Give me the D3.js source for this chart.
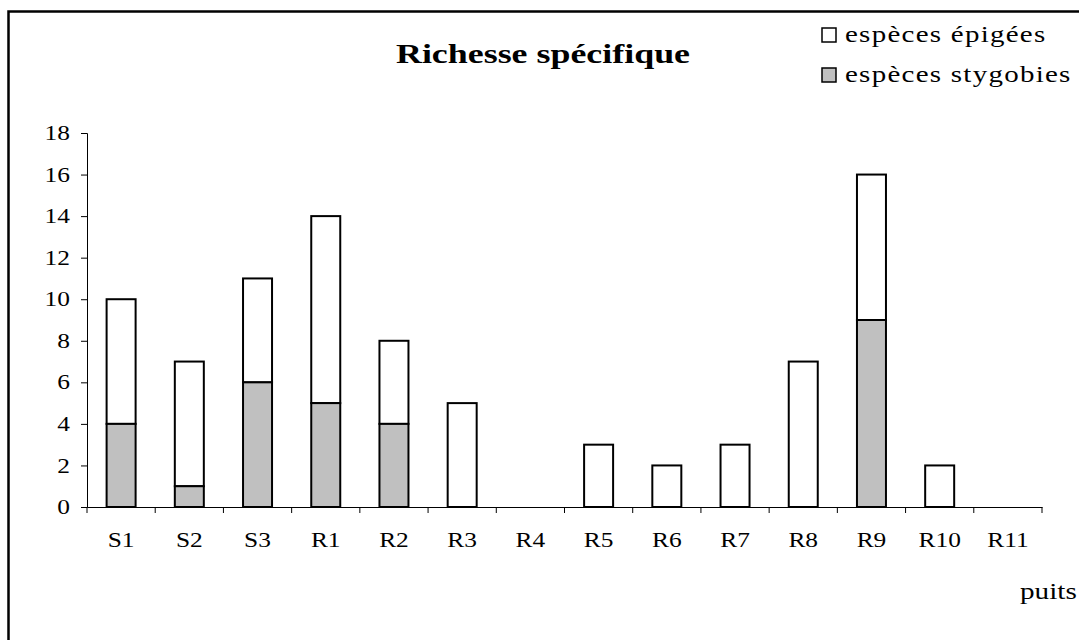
<!DOCTYPE html>
<html>
<head>
<meta charset="utf-8">
<script src="https://cdn.jsdelivr.net/npm/d3@7"></script>
<style>
  body { margin: 0; background: #fff; }
  svg text { font-family: "Liberation Serif", "Times New Roman", serif; fill: #000; }
</style>
</head>
<body>
<div id="chart"></div>
<script>
// puits (wells) and species counts
const puits = ['S1', 'S2', 'S3', 'R1', 'R2', 'R3', 'R4', 'R5', 'R6', 'R7', 'R8', 'R9', 'R10', 'R11'];
const stygobies = [4, 1, 6, 5, 4, 0, 0, 0, 0, 0, 0, 9, 0, 0];
const epigees = [6, 6, 5, 9, 4, 5, 0, 3, 2, 3, 7, 7, 2, 0];
const yTicks = [0, 2, 4, 6, 8, 10, 12, 14, 16, 18];
const seriesNames = ['espèces épigées', 'espèces stygobies'];
const seriesColors = ['#ffffff', '#c0c0c0'];

let width = 1079;
let height = 640;

let svg = d3.select('#chart')
  .append('svg')
  .attr('width', width)
  .attr('height', height);

// the original text is wider than it is tall:
// put the text at its anchor, then widen it
function widen(sel, k) {
  sel.each(function () {
    let t = d3.select(this);
    let tx = +t.attr('x') || 0;
    let ty = +t.attr('y') || 0;
    t.attr('x', 0).attr('y', 0)
      .attr('transform', `translate(${tx},${ty}) scale(${k},1)`);
  });
}

// outer frame (runs off the right and bottom edge in the original)
svg.append('rect')
  .attr('x', 8.5).attr('y', 11.5)
  .attr('width', 1200).attr('height', 800)
  .attr('fill', 'none').attr('stroke', '#000').attr('stroke-width', 2.5);

let x = d3.scaleBand().domain(puits).range([87, 1042]).padding(0);
let y = d3.scaleLinear().domain([0, 18]).range([507, 133]);

let barW = 29;

// stack stygobies at the bottom, épigées on top
let rows = puits.map((p, i) => ({puits: p, stygobies: stygobies[i], epigees: epigees[i]}));
let stack = d3.stack().keys(['epigees', 'stygobies']).order(d3.stackOrderReverse)(rows);

let groups = svg.selectAll('g.serie')
  .data(stack)
  .enter()
  .append('g')
  .attr('class', 'serie')
  .attr('fill', (d, i) => seriesColors[i]);

groups.selectAll('rect')
  .data(d => d.filter(s => s[1] - s[0] > 0))
  .enter()
  .append('rect')
  .attr('x', d => x(d.data.puits) + x.bandwidth() / 2 - barW / 2)
  .attr('y', d => y(d[1]))
  .attr('width', barW)
  .attr('height', d => y(d[0]) - y(d[1]))
  .attr('stroke', '#000')
  .attr('stroke-width', 2);

// y axis
let yAxis = svg.append('g')
  .attr('transform', 'translate(87,0)')
  .call(d3.axisLeft(y).tickValues(yTicks).tickSize(6).tickPadding(11));
yAxis.selectAll('text').style('font-size', '20.5px').call(widen, 1.24);

// x axis, ticks between categories
let xAxis = svg.append('g')
  .attr('transform', 'translate(0,507)')
  .call(d3.axisBottom(x).tickSize(0).tickPadding(25));
xAxis.selectAll('text').style('font-size', '20.5px').call(widen, 1.24);
xAxis.selectAll('.sep')
  .data(puits.concat(['end']))
  .enter()
  .append('line')
  .attr('class', 'sep')
  .attr('x1', (d, i) => i < puits.length ? x(d) : x.range()[1])
  .attr('x2', (d, i) => i < puits.length ? x(d) : x.range()[1])
  .attr('y1', 0).attr('y2', 6)
  .attr('stroke', '#000');

svg.selectAll('.domain').attr('stroke', '#000');
svg.selectAll('.tick line').attr('stroke', '#000');

// title
svg.append('text')
  .attr('x', 543).attr('y', 63)
  .attr('text-anchor', 'middle')
  .style('font-size', '27px')
  .style('font-weight', 'bold')
  .text('Richesse spécifique')
  .call(widen, 1.33);

// axis name
svg.append('text')
  .attr('x', 1020).attr('y', 599)
  .style('font-size', '23px')
  .text('puits')
  .call(widen, 1.27);

// legend
let legend = svg.selectAll('g.legend')
  .data(seriesNames)
  .enter()
  .append('g')
  .attr('class', 'legend')
  .attr('transform', (d, i) => `translate(822,${28 + i * 40})`);

legend.append('rect')
  .attr('width', 14).attr('height', 14)
  .attr('fill', (d, i) => seriesColors[i])
  .attr('stroke', '#000').attr('stroke-width', 1.5);

legend.append('text')
  .attr('x', 23).attr('y', 14)
  .style('font-size', '23px')
  .style('letter-spacing', '1px')
  .text(d => d)
  .call(widen, 1.26);
</script>
</body>
</html>
